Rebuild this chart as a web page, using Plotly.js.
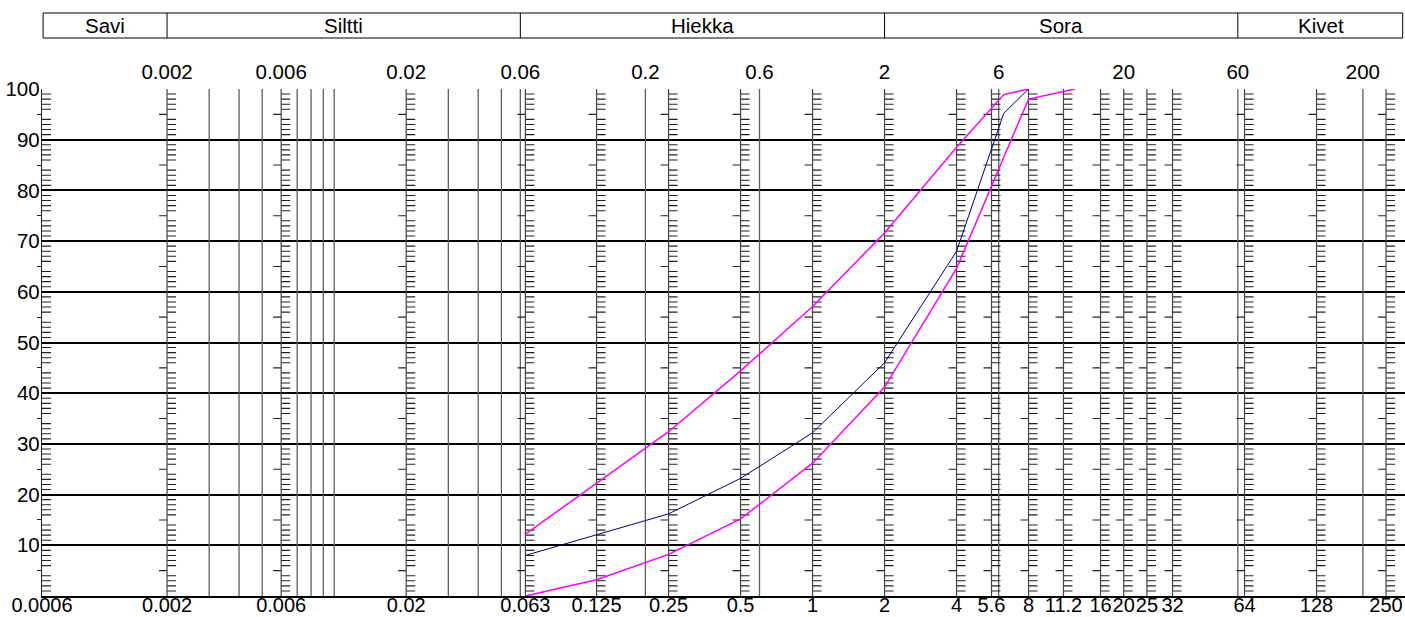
<!DOCTYPE html>
<html><head><meta charset="utf-8">
<script src="https://cdn.plot.ly/plotly-3.0.1.min.js"></script>
<style>html,body{margin:0;padding:0;background:#fff;overflow:hidden}#chart{width:1405px;height:617px}</style>
</head><body><div id="chart"></div>
<script>
// Sieve sizes (mm) with tick ladders, bottom labels
const sieveSizes = [0.0006, 0.002, 0.006, 0.02, 0.063, 0.125, 0.25, 0.5, 1, 2, 4, 5.6, 8, 11.2, 16, 20, 25, 32, 64, 128, 250];
const sieveLabels = ['0.0006','0.002','0.006','0.02','0.063','0.125','0.25','0.5','1','2','4','5.6','8','11.2','16','20','25','32','64','128','250'];
// Fraction limits, top labels
const limitSizes = [0.002, 0.006, 0.02, 0.06, 0.2, 0.6, 2, 6, 20, 60, 200];
const limitLabels = ['0.002','0.006','0.02','0.06','0.2','0.6','2','6','20','60','200'];
// Plain vertical lines
const plainLines = [0.003, 0.004, 0.005, 0.007, 0.008, 0.009, 0.01, 0.03, 0.04, 0.05, 0.06, 0.2, 0.6, 6, 60, 200];
// Fraction header
const fractionNames = ['Savi', 'Siltti', 'Hiekka', 'Sora', 'Kivet'];
const fractionBounds = [0.0006, 0.002, 0.06, 2, 60, 300];
// Percent axis
const percentTicks = [10, 20, 30, 40, 50, 60, 70, 80, 90, 100];
const percentLabels = ['10','20','30','40','50','60','70','80','90','100'];
// Sample curve
const sampleSize = [0.063, 0.125, 0.25, 0.5, 1, 2, 4, 6.3, 8];
const samplePassing = [8.0, 12.1, 16.2, 23.2, 32.2, 46.0, 68.0, 95.2, 100];
// Upper limit curve
const upperSize = [0.063, 0.125, 0.25, 0.5, 1, 2, 4, 6.3, 8];
const upperPassing = [12.2, 22.2, 32.4, 44.4, 57.1, 71.6, 88.5, 98.9, 100];
// Lower limit curve
const lowerSize = [0.063, 0.125, 0.25, 0.5, 1, 2, 4, 8, 12.5];
const lowerPassing = [0, 3.2, 8.2, 15.2, 26.2, 41.2, 64.6, 98, 100];

const FONT = '"Liberation Sans", Arial, Helvetica, sans-serif';
const FS = 20.5;
const xRange = [Math.log10(fractionBounds[0]), Math.log10(fractionBounds[fractionBounds.length - 1])];

const shapes = [];
// plain vertical lines
plainLines.forEach(v => shapes.push({type:'line', xref:'x', yref:'y', x0:v, x1:v, y0:0, y1:100,
  line:{color:'#5e5e5e', width:1.3}, layer:'between'}));
// tick ladders
const rightTickLen = 9, leftTickLen = 8;
sieveSizes.forEach((v, i) => {
  let p = '';
  for (let k = 1; k < 100; k++) {
    if (k % 10 === 0) continue;
    if (k % 5 === 0) { if (i > 0) p += 'M0,' + k + 'L' + (-leftTickLen) + ',' + k; }
    else p += 'M0,' + k + 'L' + rightTickLen + ',' + k;
  }
  shapes.push({type:'path', xref:'x', yref:'y', xsizemode:'pixel', xanchor:v, path:p,
    line:{color:'#222', width:1.1}, layer:'between'});
  if (i > 0) shapes.push({type:'line', xref:'x', yref:'y', x0:v, x1:v, y0:0, y1:100,
    line:{color:'#444', width:1.2}, layer:'between'});
});
// header box
const hy0 = 51, hy1 = 76;
shapes.push({type:'rect', xref:'paper', yref:'paper', ysizemode:'pixel', yanchor:1,
  x0:0.0008, x1:0.9983, y0:hy0, y1:hy1, line:{color:'#000', width:1}, fillcolor:'rgba(0,0,0,0)'});
for (let i = 1; i < fractionBounds.length - 1; i++) {
  shapes.push({type:'line', xref:'x', yref:'paper', ysizemode:'pixel', yanchor:1,
    x0:fractionBounds[i], x1:fractionBounds[i], y0:hy0, y1:hy1, line:{color:'#000', width:1}});
}
const annotations = fractionNames.map((n, i) => ({
  text:n, xref:'x', yref:'paper', showarrow:false,
  x:(Math.log10(fractionBounds[i]) + Math.log10(fractionBounds[i + 1])) / 2,
  y:1, yanchor:'middle', yshift:63.5, font:{family:FONT, size:FS, color:'#000'}
}));

const traces = [
  {x:upperSize, y:upperPassing, type:'scatter', mode:'lines', line:{color:'#ff00ff', width:1.5}, hoverinfo:'skip', showlegend:false},
  {x:lowerSize, y:lowerPassing, type:'scatter', mode:'lines', line:{color:'#ff00ff', width:1.5}, hoverinfo:'skip', showlegend:false},
  {x:sampleSize, y:samplePassing, type:'scatter', mode:'lines', line:{color:'#000080', width:1}, hoverinfo:'skip', showlegend:false},
  {x:limitSizes, y:limitSizes.map(() => null), xaxis:'x2', type:'scatter', mode:'lines', hoverinfo:'skip', showlegend:false}
];

const layout = {
  width:1405, height:617,
  margin:{l:42, r:0, t:89, b:21, pad:0},
  paper_bgcolor:'#fff', plot_bgcolor:'#fff',
  font:{family:FONT, size:FS, color:'#000'},
  showlegend:false,
  xaxis:{type:'log', range:xRange, tickvals:sieveSizes, ticktext:sieveLabels, tickangle:0,
    ticks:'', showgrid:false, zeroline:false, showline:true, linecolor:'#000', linewidth:2,
    tickfont:{family:FONT, size:20, color:'#000'}, ticklabelstandoff:-10, fixedrange:true},
  xaxis2:{type:'log', range:xRange, overlaying:'x', side:'top', anchor:'y', matches:'x',
    tickvals:limitSizes, ticktext:limitLabels, tickangle:0, ticks:'', showgrid:false, zeroline:false,
    showline:false, tickfont:{family:FONT, size:FS, color:'#000'}, ticklabelstandoff:5},
  yaxis:{range:[0, 100], tickvals:percentTicks, ticktext:percentLabels, ticks:'', showgrid:true,
    gridcolor:'#000', gridwidth:2, zeroline:false, showline:true, linecolor:'#222', linewidth:1.2,
    tickfont:{family:FONT, size:FS, color:'#000'}, ticklabelstandoff:-3,
    minor:{tick0:5, dtick:10, ticks:'outside', ticklen:4, tickcolor:'#222', tickwidth:1, showgrid:false},
    fixedrange:true},
  shapes:shapes,
  annotations:annotations
};

Plotly.newPlot('chart', traces, layout, {staticPlot:true, displayModeBar:false});
</script>
</body></html>
